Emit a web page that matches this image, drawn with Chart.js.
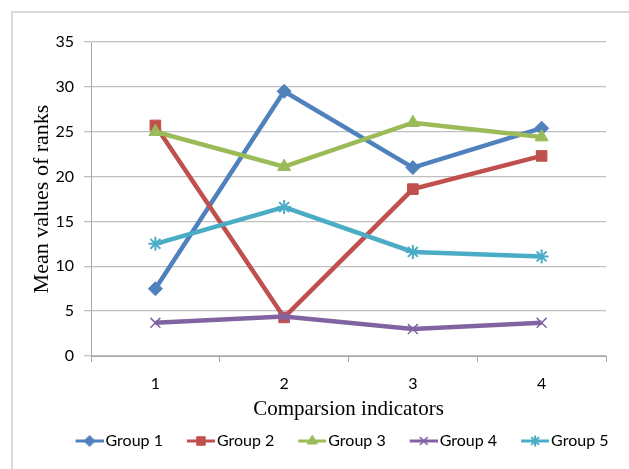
<!DOCTYPE html>
<html>
<head>
<meta charset="utf-8">
<script src="https://cdn.jsdelivr.net/npm/chart.js@4/dist/chart.umd.min.js"></script>
<style>
  html, body { margin: 0; padding: 0; background: #ffffff; }
  #wrap { position: relative; width: 629px; height: 469px; overflow: hidden; }
  #frame { position: absolute; left: 11px; top: 11px; width: 660px; height: 500px;
           border: 2px solid #d9d9d9; box-sizing: border-box; }
  #chart { position: absolute; left: 0; top: 0; }
</style>
</head>
<body>
<div id="wrap">
  <div id="frame"></div>
  <canvas id="chart" width="629" height="469"></canvas>
</div>
<script>
// Comparison indicators on the x axis
const categories = ['1', '2', '3', '4'];

// Mean values of ranks per group
const group1 = [7.5, 29.5, 21.0, 25.4];
const group2 = [25.7, 4.3, 18.6, 22.3];
const group3 = [25.0, 21.1, 26.0, 24.4];
const group4 = [3.7, 4.4, 3.0, 3.7];
const group5 = [12.5, 16.6, 11.6, 11.1];

const seriesNames = ['Group 1', 'Group 2', 'Group 3', 'Group 4', 'Group 5'];
const seriesValues = [group1, group2, group3, group4, group5];

const colors = ['#4F81BD', '#C0504D', '#9BBB59', '#8064A2', '#4BACC6'];
const markers = ['rectRot', 'rect', 'triangle', 'crossRot', 'star'];
const markerRadius = [7, 7.5, 7.5, 7, 7];
const markerBorder = [1, 1, 1, 1.5, 2];

// Legend geometry: box slot width and the icon drawn inside it
const LEGEND_BOX = 40;
const ICON_W = LEGEND_BOX + 12;
const LINE_W = 28;
const LEGEND_SHIFT = 30;

// Legend icon: a short line segment with the marker in its middle,
// drawn at the right end of the icon so the text follows it closely
function legendIcon(i) {
  const c = document.createElement('canvas');
  c.width = ICON_W; c.height = 14;
  const g = c.getContext('2d');
  const x0 = ICON_W - LINE_W;
  g.strokeStyle = colors[i];
  g.lineWidth = 3;
  g.beginPath(); g.moveTo(x0, 7); g.lineTo(ICON_W, 7); g.stroke();
  g.fillStyle = colors[i];
  g.lineWidth = markerBorder[i];
  Chart.helpers.drawPoint(g, {
    pointStyle: markers[i], radius: markerRadius[i] - 1.5, rotation: 0, borderWidth: markerBorder[i]
  }, x0 + LINE_W / 2, 7);
  return c;
}

// Centre the legend row under the plot rather than under the whole canvas
const legendOffset = {
  id: 'legendOffset',
  afterLayout(chart) {
    if (chart.legend) {
      chart.legend.left += LEGEND_SHIFT;
      chart.legend.right += LEGEND_SHIFT;
    }
  }
};

const datasets = seriesNames.map((name, i) => ({
  label: name,
  data: seriesValues[i],
  borderColor: colors[i],
  backgroundColor: colors[i],
  borderWidth: 4.5,
  tension: 0,
  pointStyle: markers[i],
  pointRadius: markerRadius[i],
  pointBorderWidth: markerBorder[i],
  pointBackgroundColor: colors[i],
  pointBorderColor: colors[i],
  order: seriesNames.length - i
}));

new Chart(document.getElementById('chart'), {
  type: 'line',
  data: { labels: categories, datasets },
  plugins: [legendOffset],
  options: {
    responsive: false,
    animation: false,
    devicePixelRatio: 1,
    layout: { padding: { left: 0, right: 23, top: 42, bottom: 10 } },
    plugins: {
      tooltip: { enabled: false },
      legend: {
        position: 'bottom',
        labels: {
          usePointStyle: true,
          pointStyleWidth: LEGEND_BOX,
          padding: 6,
          color: '#000000',
          font: { family: 'Lato', size: 16 },
          generateLabels: (chart) => chart.data.datasets.map((ds, i) => ({
            text: ds.label,
            fillStyle: colors[i],
            strokeStyle: colors[i],
            lineWidth: 0,
            pointStyle: legendIcon(i),
            hidden: false,
            datasetIndex: i
          }))
        }
      }
    },
    scales: {
      x: {
        offset: true,
        grid: {
          offset: true,
          drawOnChartArea: false,
          drawTicks: true,
          tickLength: 6,
          color: '#a6a6a6'
        },
        border: { color: '#a6a6a6', width: 1 },
        ticks: { color: '#000000', padding: 12, font: { family: 'Lato', size: 16 } },
        title: {
          display: true,
          text: 'Comparsion indicators',
          color: '#000000',
          font: { family: 'Liberation Serif', size: 21 },
          padding: { top: 0, bottom: 5 }
        },
        afterFit: (scale) => { scale.height = 71; }
      },
      y: {
        min: 0,
        max: 35,
        grid: { color: '#bfbfbf', lineWidth: 1.3, tickLength: 7 },
        border: { color: '#a6a6a6', width: 1 },
        ticks: { stepSize: 5, color: '#000000', padding: 10, font: { family: 'Lato', size: 16 } },
        title: {
          display: true,
          text: 'Mean values of ranks',
          color: '#000000',
          font: { family: 'Liberation Serif', size: 22 },
          padding: { top: 29, bottom: 0 }
        },
        afterFit: (scale) => { scale.width = 91; }
      }
    }
  }
});
</script>
</body>
</html>
